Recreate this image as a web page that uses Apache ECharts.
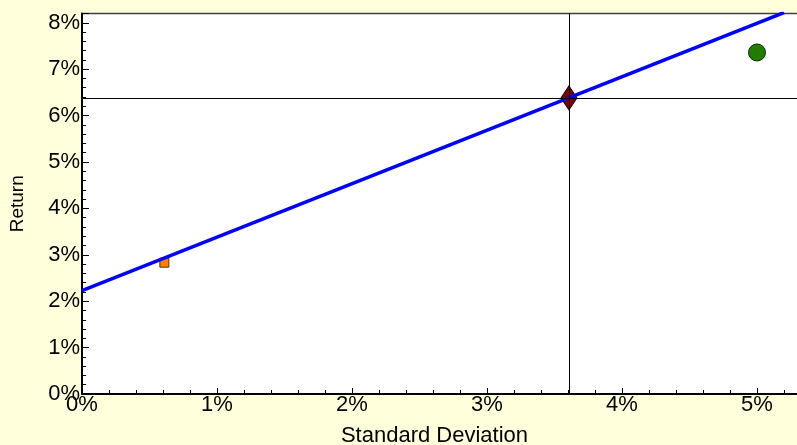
<!DOCTYPE html>
<html><head><meta charset="utf-8">
<script src="https://cdn.jsdelivr.net/npm/echarts@6/dist/echarts.min.js"></script>
<style>html,body{margin:0;padding:0;background:#FFFFDC;}#c{width:797px;height:445px;}</style>
</head><body><div id="c"></div>
<script>
// Values (in %)
const cmlLine = [[0, 2.23], [5.2, 8.22]];      // capital market line
const tangencyPoint = [[3.607, 6.38]];          // diamond
const lowRiskAsset = [[0.61, 2.83]];            // square
const highRiskAsset = [[5.0, 7.36]];            // circle
const xTickValues = [0, 1, 2, 3, 4, 5];
const yTickValues = [0, 1, 2, 3, 4, 5, 6, 7, 8];
const xName = 'Standard Deviation';
const yName = 'Return';

const fmt = (ticks) => (v) => ticks.indexOf(v) >= 0 ? v + '%' : '';
const FONT = 'Liberation Sans, Arial, sans-serif';

const chart = echarts.init(document.getElementById('c'), null, {renderer: 'canvas'});
chart.setOption({
  backgroundColor: '#FFFFDC',
  animation: false,
  grid: {left: 82, top: 13.5, width: 729, height: 380.5, containLabel: false, outerBoundsMode: 'none',
         show: true, backgroundColor: '#FFFFFF', borderColor: '#404040', borderWidth: 1.5},
  xAxis: {
    type: 'value', min: 0, max: 5.4, interval: 1,
    name: xName, nameLocation: 'middle', nameGap: 31,
    nameTextStyle: {fontFamily: FONT, fontSize: 22, color: '#000', padding: [0, 24, 0, 0]},
    axisLine: {show: true, onZero: false, lineStyle: {color: '#000', width: 2}},
    axisTick: {show: true, inside: true, length: 6, lineStyle: {color: '#000', width: 1}},
    minorTick: {show: true, splitNumber: 5, length: 4, lineStyle: {color: '#000', width: 1}},
    axisLabel: {formatter: fmt(xTickValues), fontFamily: FONT, fontSize: 22, color: '#000', margin: 0},
    splitLine: {show: false}, minorSplitLine: {show: false}
  },
  yAxis: {
    type: 'value', min: 0, max: 8.2, interval: 1,
    name: yName, nameLocation: 'middle', nameGap: 55, nameRotate: 90,
    nameTextStyle: {fontFamily: FONT, fontSize: 19, color: '#000'},
    axisLine: {show: true, onZero: false, lineStyle: {color: '#000', width: 2}},
    axisTick: {show: true, inside: true, length: 7, lineStyle: {color: '#000', width: 1}},
    minorTick: {show: true, splitNumber: 5, length: 4, lineStyle: {color: '#000', width: 1}},
    axisLabel: {formatter: fmt(yTickValues), fontFamily: FONT, fontSize: 22, color: '#000', margin: 2},
    splitLine: {show: false}, minorSplitLine: {show: false}
  },
  series: [
    {
      type: 'scatter', data: tangencyPoint, symbol: 'diamond', symbolSize: [16, 24],
      itemStyle: {color: '#800000', borderColor: '#200000', borderWidth: 1, opacity: 1},
      z: 3,
      markLine: {
        silent: true, symbol: 'none', label: {show: false},
        lineStyle: {color: '#000', width: 1, type: 'solid'},
        data: [{xAxis: tangencyPoint[0][0]}, {yAxis: tangencyPoint[0][1]}]
      }
    },
    {
      type: 'scatter', data: lowRiskAsset, symbol: 'rect', symbolSize: 9,
      itemStyle: {color: '#FF8000', borderColor: '#603000', borderWidth: 1, opacity: 1}, z: 3
    },
    {
      type: 'scatter', data: highRiskAsset, symbol: 'circle', symbolSize: 17,
      itemStyle: {color: '#1F7D00', borderColor: '#0A2A00', borderWidth: 1, opacity: 1}, z: 3
    },
    {
      type: 'line', data: cmlLine, showSymbol: false, symbol: 'none',
      lineStyle: {color: '#0000FF', width: 3.5}, z: 4
    }
  ]
});
</script>
</body></html>
